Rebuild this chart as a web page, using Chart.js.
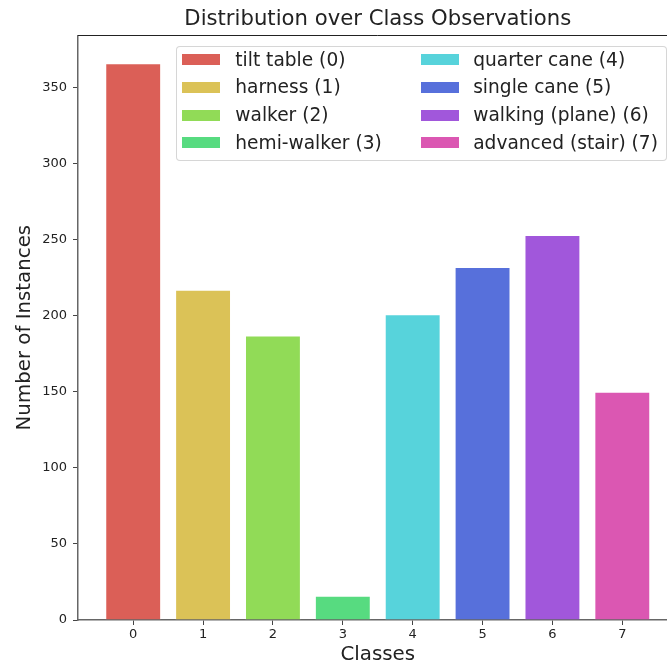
<!DOCTYPE html>
<html><head><meta charset="utf-8">
<script src="https://cdn.jsdelivr.net/npm/chart.js@4.4.1/dist/chart.umd.min.js"></script>
<style>
html,body{margin:0;padding:0;overflow:hidden;background:#fff;width:667px;height:665px}
#wrap{position:relative;width:680px;height:665px}
#c{position:absolute;left:0;top:0}
#legendBox{position:absolute;left:176px;top:46px;width:491px;height:115px;border:1px solid rgba(204,204,204,0.8);border-radius:4px;box-sizing:border-box;background:rgba(255,255,255,0.8)}
.patch{position:absolute;width:38px;height:11px}
.ltext{position:absolute;height:28px;line-height:28px;white-space:nowrap;font-family:"DejaVu Sans";font-size:18.6px;color:#222}
</style></head><body>
<div id="wrap"><canvas id="c" width="680" height="665"></canvas><div id="legendBox"></div></div>
<script>
const categories = ['0','1','2','3','4','5','6','7'];
const classNames = ['tilt table (0)','harness (1)','walker (2)','hemi-walker (3)','quarter cane (4)','single cane (5)','walking (plane) (6)','advanced (stair) (7)'];
const counts = [366, 217, 187, 16, 201, 232, 253, 150];
const colors = ['#db5f57','#dbc257','#91db57','#57db80','#57d3db','#5770db','#a157db','#db57b2'];
const yTicks = [0, 50, 100, 150, 200, 250, 300, 350];

// legend (HTML overlay)
const wrap = document.getElementById('wrap');
const rowY = [59.5, 87.3, 115.1, 142.9];
const colPatchX = [182.3, 421.3];
const colTextX = [235.3, 473.2];
classNames.forEach((name, i) => {
  const col = Math.floor(i / 4), row = i % 4;
  const p = document.createElement('div');
  p.className = 'patch';
  p.style.left = colPatchX[col] + 'px';
  p.style.top = (rowY[row] - 5.5) + 'px';
  p.style.background = colors[i];
  wrap.appendChild(p);
  const t = document.createElement('div');
  t.className = 'ltext';
  t.style.left = colTextX[col] + 'px';
  t.style.top = (rowY[row] - 14) + 'px';
  t.textContent = name;
  wrap.appendChild(t);
});

const frame = {
  id: 'frame',
  afterDraw(c) {
    const {ctx, chartArea: a} = c;
    ctx.save();
    ctx.strokeStyle = '#222';
    ctx.lineWidth = 1;
    ctx.beginPath();
    ctx.moveTo(a.left, Math.floor(a.top) + 0.5);
    ctx.lineTo(a.right, Math.floor(a.top) + 0.5);
    ctx.lineTo(a.right, a.bottom);
    ctx.stroke();
    ctx.restore();
  }
};

const fontFam = 'DejaVu Sans';
new Chart(document.getElementById('c'), {
  type: 'bar',
  data: {
    datasets: [{
      data: counts.map((v, i) => ({x: i, y: v})),
      backgroundColor: colors,
      borderColor: 'rgba(255,255,255,0.3)',
      borderWidth: 1,
      categoryPercentage: 1,
      barPercentage: 0.8
    }]
  },
  options: {
    responsive: false,
    animation: false,
    devicePixelRatio: 1,
    layout: {padding: {left: 0, right: 2.5, top: 0, bottom: 0}},
    plugins: {
      legend: {display: false},
      tooltip: {enabled: false},
      title: {
        display: true,
        text: 'Distribution over Class Observations',
        fullSize: false,
        color: '#222',
        font: {family: fontFam, size: 21.2, weight: 'normal', lineHeight: 1.2},
        padding: {top: 7, bottom: 2.9}
      }
    },
    scales: {
      x: {
        type: 'linear',
        offset: false,
        min: -0.79,
        max: 7.79,
        afterBuildTicks: s => { s.ticks = categories.map((c, i) => ({value: i})); },
        afterFit: s => { s.height = 45; },
        ticks: {
          callback: v => categories[v],
          color: '#222',
          font: {family: fontFam, size: 13},
          padding: 2,
          maxRotation: 0,
          autoSkip: false
        },
        grid: {offset: false, drawOnChartArea: false, drawTicks: true, tickLength: 5, tickColor: '#444'},
        border: {display: true, color: '#666', width: 1.5},
        title: {display: true, text: 'Classes', color: '#222', font: {family: fontFam, size: 19.8, lineHeight: 1}, padding: 0}
      },
      y: {
        type: 'linear',
        min: 0,
        max: 384.3,
        afterBuildTicks: s => { s.ticks = yTicks.map(v => ({value: v})); },
        afterFit: s => { s.width = 78; },
        ticks: {color: '#222', font: {family: fontFam, size: 13}, padding: 6},
        grid: {drawOnChartArea: false, drawTicks: true, tickLength: 5, tickColor: '#444'},
        border: {display: true, color: '#666', width: 1.5},
        title: {display: true, text: 'Number of Instances', color: '#222', font: {family: fontFam, size: 19.8, lineHeight: 1}, padding: {top: 14.5, bottom: 0}}
      }
    }
  },
  plugins: [frame]
});
</script>
</body></html>
